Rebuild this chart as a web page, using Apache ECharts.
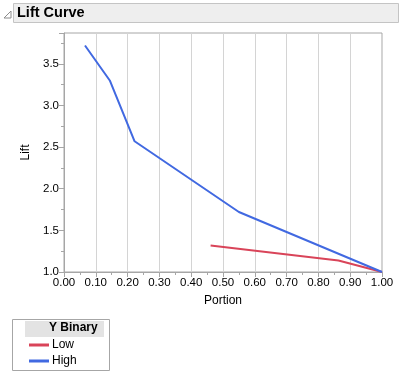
<!DOCTYPE html>
<html><head><meta charset="utf-8">
<script src="https://cdn.jsdelivr.net/npm/echarts@6/dist/echarts.min.js"></script>
<style>html,body{margin:0;padding:0;background:#fff}#c{width:402px;height:374px}</style>
</head><body><div id="c"></div>
<script>
const xTicks = ['0.00','0.10','0.20','0.30','0.40','0.50','0.60','0.70','0.80','0.90','1.00'];
const yTicks = ['1.0','1.5','2.0','2.5','3.0','3.5'];
const portionHigh = [0.066, 0.144, 0.222, 0.550, 1.000];
const liftHigh    = [3.72, 3.30, 2.57, 1.72, 1.00];
const portionLow  = [0.461, 0.863, 1.000];
const liftLow     = [1.317, 1.137, 1.00];
const seriesNames = ['Low', 'High'];
const FONT = 'Liberation Sans';
const legendBase = {
  orient: 'vertical', left: 24, itemWidth: 20, itemHeight: 3, icon: 'rect',
  textStyle: { fontSize: 12, color: '#000', fontFamily: FONT, padding: [0, 0, 0, -2] }
};
const chart = echarts.init(document.getElementById('c'));
chart.setOption({
  animation: false,
  textStyle: { fontFamily: FONT },
  grid: { left: 64, top: 33, right: 20, bottom: 102, show: true, borderColor: '#a6a6a6', borderWidth: 1 },
  xAxis: {
    type: 'value', min: 0, max: 1, interval: 0.1,
    name: 'Portion', nameLocation: 'middle', nameGap: 23,
    nameTextStyle: { fontSize: 12, color: '#000', fontFamily: FONT },
    axisLine: { lineStyle: { color: '#a6a6a6' } },
    axisTick: { length: 5, lineStyle: { color: '#a6a6a6' } },
    minorTick: { show: true, splitNumber: 2, length: 3, lineStyle: { color: '#a6a6a6' } },
    axisLabel: { fontSize: 11.5, color: '#000', margin: 5, formatter: v => xTicks[Math.round(v * 10)] },
    splitLine: { show: true, lineStyle: { color: '#d4d4d4' } }
  },
  yAxis: {
    type: 'value', min: 1, max: 3.87, interval: 0.5,
    name: 'Lift', nameLocation: 'middle', nameGap: 30, nameRotate: 90,
    nameTextStyle: { fontSize: 12, color: '#000', fontFamily: FONT },
    axisLine: { show: true, lineStyle: { color: '#a6a6a6' } },
    axisTick: { show: true, length: 5, lineStyle: { color: '#a6a6a6' } },
    minorTick: { show: true, splitNumber: 2, length: 3, lineStyle: { color: '#a6a6a6' } },
    axisLabel: { fontSize: 11.5, color: '#000', margin: 5, showMaxLabel: false,
      formatter: v => { const i = Math.round((v - 1) / 0.5); return Math.abs(v - (1 + i * 0.5)) < 1e-6 ? yTicks[i] : ''; } },
    splitLine: { show: false }
  },
  legend: [
    Object.assign({}, legendBase, { top: 334, data: [seriesNames[0]] }),
    Object.assign({}, legendBase, { top: 350, data: [seriesNames[1]] })
  ],
  graphic: [
    { type: 'rect', shape: { x: 13.5, y: 3.5, width: 385, height: 19 }, style: { fill: '#eeeeee', stroke: '#c4c4c4', lineWidth: 1 } },
    { type: 'polyline', shape: { points: [[4, 18], [11, 11], [11, 18], [4, 18]] }, style: { stroke: '#8c8c8c', fill: 'none', lineWidth: 1 } },
    { type: 'text', x: 17, y: 5, style: { text: 'Lift Curve', font: 'bold 14.5px ' + FONT, fill: '#000' } },
    { type: 'rect', shape: { x: 12.5, y: 319.5, width: 97, height: 51 }, style: { fill: 'none', stroke: '#a6a6a6', lineWidth: 1 } },
    { type: 'rect', shape: { x: 25, y: 321, width: 79, height: 16 }, style: { fill: '#e3e3e3' } },
    { type: 'text', x: 49, y: 322, style: { text: 'Y Binary', font: 'bold 12px ' + FONT, fill: '#000' } }
  ],
  series: [
    { name: 'Low', type: 'line', data: portionLow.map((p, i) => [p, liftLow[i]]), symbol: 'none',
      lineStyle: { width: 2, color: '#d94459' }, itemStyle: { color: '#d94459' } },
    { name: 'High', type: 'line', data: portionHigh.map((p, i) => [p, liftHigh[i]]), symbol: 'none',
      lineStyle: { width: 2, color: '#4169e1' }, itemStyle: { color: '#4169e1' } }
  ]
});
</script></body></html>
